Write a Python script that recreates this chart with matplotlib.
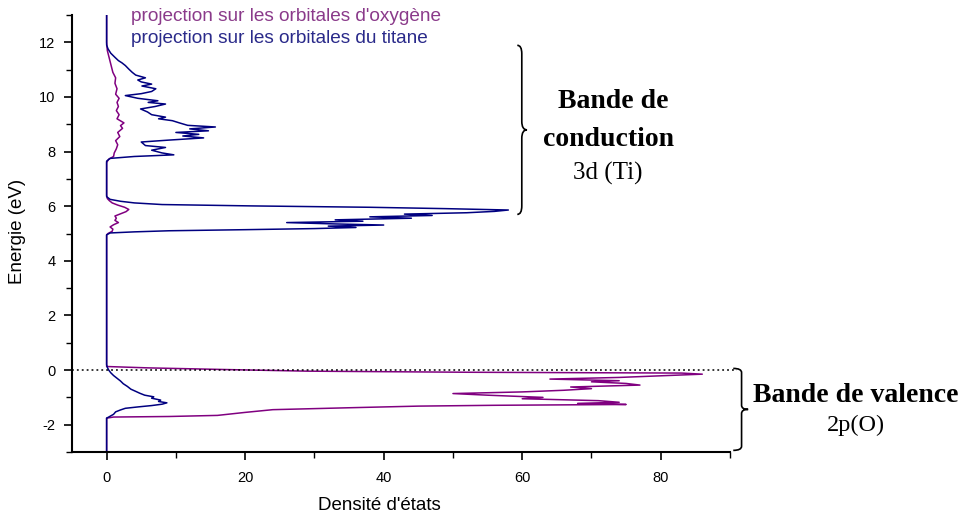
import matplotlib
matplotlib.use("Agg")
import matplotlib.pyplot as plt
from matplotlib.path import Path
from matplotlib.patches import PathPatch
from matplotlib.ticker import MultipleLocator

# densite d'etats projetee sur l'oxygene (energie en eV, DOS)
energy_o = [-3.0, -1.76, -1.72, -1.70, -1.66, -1.55, -1.45, -1.38, -1.32, -1.29,
            -1.26, -1.22, -1.18, -1.12, -1.05, -1.00, -0.92, -0.86, -0.80, -0.74,
            -0.68, -0.62, -0.55, -0.49, -0.43, -0.39, -0.33, -0.27, -0.21, -0.15,
            -0.11, -0.08, -0.04, 0.02, 0.08, 0.13,
            4.95, 5.00, 5.08, 5.16, 5.24, 5.32, 5.40, 5.48, 5.56, 5.64, 5.72, 5.80,
            5.88, 5.96, 6.04, 6.12, 6.20, 6.28, 6.40,
            7.60, 7.72, 7.82, 7.95, 8.10, 8.25, 8.40, 8.55, 8.70, 8.85, 8.95, 9.05,
            9.20, 9.35, 9.50, 9.65, 9.80, 9.95, 10.10, 10.30, 10.50, 10.70, 10.90,
            11.10, 11.30, 11.50, 11.70, 12.00, 13.0]
dos_o = [0, 0, 1.0, 9, 16, 20, 24, 35, 45, 56,
         75, 68, 74, 71, 60, 63, 55, 50, 60, 66,
         70, 67, 77, 75, 70, 74, 64, 74, 80, 86,
         83, 52, 29, 17, 6, 0,
         0, 0.2, 0.8, 0.9, 0.5, 1.0, 1.7, 1.2, 1.4, 1.2, 2.0, 2.8,
         3.2, 2.6, 1.6, 0.8, 0.4, 0.1, 0,
         0, 0.3, 1.0, 1.1, 1.4, 1.6, 1.3, 1.9, 1.6, 2.3, 2.0, 2.5,
         1.5, 1.8, 1.4, 1.7, 1.5, 1.8, 1.3, 1.5, 1.2, 1.3, 0.9,
         0.7, 0.5, 0.3, 0.1, 0, 0]

# densite d'etats projetee sur le titane
energy_ti = [-3.0, -1.76, -1.72, -1.62, -1.53, -1.46, -1.40, -1.35, -1.30, -1.25,
             -1.20, -1.15, -1.10, -1.03, -0.98, -0.92, -0.85, -0.78, -0.70, -0.60,
             -0.50, -0.40, -0.30, -0.20, -0.10, 0.00, 0.10, 0.20,
             4.95, 5.02, 5.06, 5.10, 5.14, 5.18, 5.22, 5.27, 5.31, 5.35, 5.40, 5.45,
             5.50, 5.56, 5.61, 5.66, 5.71, 5.76, 5.81, 5.86, 5.91, 5.96, 6.01, 6.06,
             6.12, 6.18, 6.25, 6.35,
             7.65, 7.75, 7.82, 7.88, 7.95, 8.05, 8.15, 8.22, 8.35, 8.42, 8.50, 8.57,
             8.63, 8.70, 8.76, 8.83, 8.90, 8.96, 9.05, 9.13, 9.20, 9.26, 9.35, 9.45,
             9.56, 9.65, 9.74, 9.80, 9.86, 9.95, 10.05, 10.12, 10.20, 10.30, 10.40,
             10.47, 10.55, 10.62, 10.70, 10.80, 10.90, 11.02, 11.15, 11.25, 11.33,
             11.45, 11.60, 11.76, 11.90, 13.0]
dos_ti = [0, 0, 0.3, 1.0, 1.3, 2.0, 2.7, 4.5, 6.5, 8.0,
          8.7, 7.5, 7.8, 6.5, 6.8, 5.5, 4.8, 4.2, 3.5, 3.0,
          2.4, 2.0, 1.5, 1.0, 0.6, 0.3, 0.1, 0,
          0, 0.5, 4, 9, 20, 30, 36, 32, 40, 33, 26, 37,
          33, 44, 38, 47, 43, 52, 56, 58, 49, 38, 21, 8,
          4, 2, 0.5, 0,
          0, 0.5, 4, 9.7, 8, 6.5, 8.5, 5.6, 5, 9, 14, 11,
          13.3, 10, 14.7, 12, 15.7, 11.7, 10.5, 9.5, 7.5, 8.5, 6.5, 5.9,
          4.9, 7.0, 8.5, 6.0, 7.4, 4.5, 2.7, 5.0, 6.5, 7.1, 5.1,
          6.5, 5.0, 4.5, 5.6, 4.2, 3.7, 3.2, 2.7, 2.2, 1.7,
          1.2, 0.6, 0.2, 0, 0]

x_ticks = [0, 20, 40, 60, 80]
y_ticks = [-2, 0, 2, 4, 6, 8, 10, 12]

W, H = 965, 514


def px(x, y):
    return x / W, 1 - y / H


def brace(ax, x, y0, y1, w, hook):
    # accolade verticale, pointe vers la droite
    h = y1 - y0
    ym = (y0 + y1) / 2
    verts = [(x - hook, y1), (x, y1), (x, y1 - 0.05 * h),
             (x, ym + 0.05 * h),
             (x, ym), (x + w, ym),
             (x, ym), (x, ym - 0.05 * h),
             (x, y0 + 0.05 * h),
             (x, y0), (x - hook, y0)]
    codes = [Path.MOVETO, Path.CURVE3, Path.CURVE3, Path.LINETO,
             Path.CURVE3, Path.CURVE3, Path.CURVE3, Path.CURVE3,
             Path.LINETO, Path.CURVE3, Path.CURVE3]
    ax.add_patch(PathPatch(Path(verts, codes), fill=False, lw=1.2,
                           color="black", clip_on=False))


plt.rcParams["font.family"] = ["Liberation Sans", "DejaVu Sans"]
plt.rcParams["axes.unicode_minus"] = False

fig = plt.figure(figsize=(W / 100, H / 100), dpi=100)
ax = fig.add_axes([72 / W, 62 / H, (730 - 72) / W, (452 - 15) / H])

ax.plot(dos_o, energy_o, color="#800080", lw=1.1)
ax.plot(dos_ti, energy_ti, color="#000080", lw=1.1)
ax.axhline(0.02, color="black", lw=1.1, ls=(0, (1.2, 2.0)), xmax=1.01, clip_on=False)

ax.set_xlim(-5, 90)
ax.set_ylim(-3, 13)
ax.set_xticks(x_ticks)
ax.set_yticks(y_ticks)
ax.xaxis.set_minor_locator(MultipleLocator(10))
ax.yaxis.set_minor_locator(MultipleLocator(1))
for s in ["top", "right"]:
    ax.spines[s].set_visible(False)
for s in ["left", "bottom"]:
    ax.spines[s].set_linewidth(1.5)
ax.tick_params(which="major", length=6, width=1.2, labelsize=10.5, pad=6)
ax.tick_params(which="minor", length=4, width=1.0)
ax.tick_params(axis="x", pad=8)

fig.text(*px(379, 505), "Densité d'états", ha="center", va="center", fontsize=13.5)
fig.text(*px(18, 231), "Energie (eV)", ha="center", va="center", rotation=90, fontsize=13.5)

fig.text(*px(131, 21), "projection sur les orbitales d'oxygène", color="#8a3a8a",
         fontsize=13.7, ha="left", va="baseline")
fig.text(*px(131, 43), "projection sur les orbitales du titane", color="#2a2a8a",
         fontsize=13.7, ha="left", va="baseline")

# accolades
brace(ax, 59.94, 5.70, 11.89, 0.75, 0.65)
brace(ax, 91.67, -2.94, 0.06, 0.95, 1.2)

serif = ["Liberation Serif", "DejaVu Serif"]
fig.text(*px(613, 102), "Bande de", family=serif, fontweight="bold", fontsize=20,
         ha="center", va="center")
fig.text(*px(608, 140), "conduction", family=serif, fontweight="bold", fontsize=20,
         ha="center", va="center")
fig.text(*px(608, 173), "3d (Ti)", family=serif, fontsize=18, ha="center", va="center")
fig.text(*px(856, 395), "Bande de valence", family=serif, fontweight="bold", fontsize=20,
         ha="center", va="center")
fig.text(*px(856, 425), "2p(O)", family=serif, fontsize=17.5, ha="center", va="center")

fig.savefig("out.png", dpi=100)
